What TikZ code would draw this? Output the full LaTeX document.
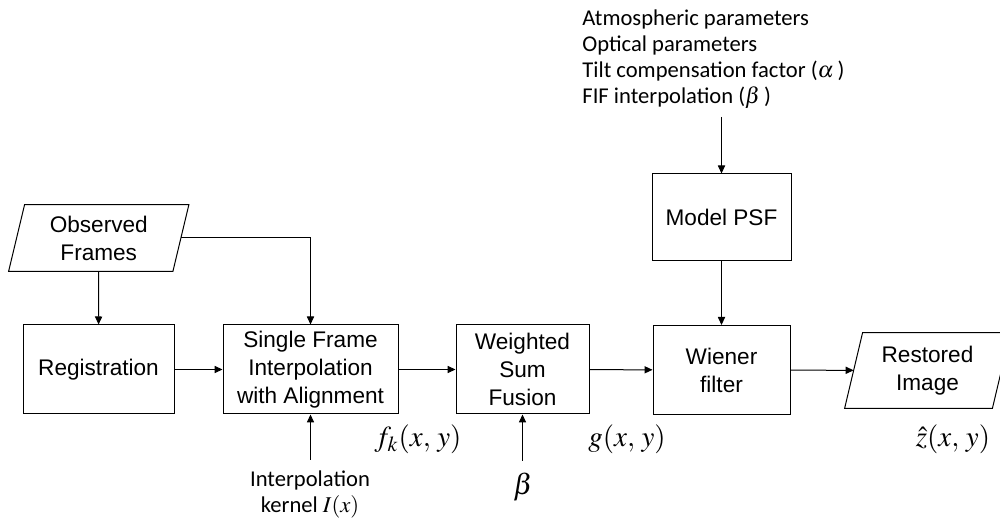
\documentclass[tikz,border=0pt]{standalone}
\usepackage{mathptmx}
\usepackage{fontspec}
\setmainfont{Liberation Sans}
\newfontfamily\calfnt{Carlito}
\usetikzlibrary{arrows.meta,calc}
\begin{document}
\begin{tikzpicture}[x=0.5pt,y=-0.5pt,
  box/.style={draw, line width=0.5pt, inner sep=0pt, minimum height=44.5pt, align=center, font=\fontsize{11.3}{14}\selectfont},
  para/.style={inner sep=0pt, align=center, font=\fontsize{11.3}{14}\selectfont},
  paraline/.style={line width=0.5pt},
  lbl/.style={font=\calfnt\fontsize{11.3}{13}\selectfont, inner sep=0pt},
  mathlbl/.style={font=\fontsize{14.5}{16}\selectfont, inner sep=0pt},
  arr/.style={-{Triangle[length=4pt,width=3.6pt]}, line width=0.5pt}]
\useasboundingbox (0,0) rectangle (1000,522);

% blocks
\node[box, minimum width=75.5pt] (reg) at (98.5,369.5) {Registration};
\node[box, minimum width=87.5pt] (single) at (310.5,369.5) {Single Frame\\Interpolation\\with Alignment};
\node[box, minimum width=66.5pt] (fusion) at (522.5,369.5) {Weighted\\Sum\\Fusion};
\node[box, minimum width=68.5pt] (wiener) at (721.5,370) {Wiener\\filter};
\node[box, minimum width=69.5pt, minimum height=43.5pt] (psf) at (721.5,217.5) {Model PSF};

% parallelograms
\node[para, minimum width=81.75pt, minimum height=33pt] (obs) at (98.75,238) {Observed\\Frames};
\draw[paraline] ($(obs.south west)+(-8,0)$) -- ($(obs.south east)+(-8,0)$) -- ($(obs.north east)+(8,0)$) -- ($(obs.north west)+(8,0)$) -- cycle;
\node[para, minimum width=73.5pt, minimum height=37.5pt] (rest) at (927.5,370.5) {Restored\\Image};
\draw[paraline] ($(rest.south west)+(-9,0)$) -- ($(rest.south east)+(-9,0)$) -- ($(rest.north east)+(9,0)$) -- ($(rest.north west)+(9,0)$) -- cycle;

% texts
\node[lbl, align=left, anchor=north west] (params) at (582,9) {Atmospheric parameters\\Optical parameters\\Tilt compensation factor ($\alpha$\,)\\FIF interpolation ($\beta$\,)};
\node[lbl, align=center] (kernel) at (310,494) {Interpolation\\kernel $I(x)$};
\node[mathlbl] (beta) at (523,487) {$\beta$};
\node[mathlbl] (fk) at (418,439) {$f_k(x,\,y)$};
\node[mathlbl] (g) at (627,439) {$g(x,\,y)$};
\node[mathlbl] (zhat) at (953,439) {$\hat{z}(x,\,y)$};

% connectors
\coordinate (pin) at (721.5,117);
\coordinate (kin) at (310.5,460);
\coordinate (bin) at (522.5,461);
\draw[arr] (obs) -- (reg);
\draw[arr] (obs.east) -| (single.north);
\draw[arr] (reg) -- (single);
\draw[arr] (kin) -- (single);
\draw[arr] (single) -- (fusion);
\draw[arr] (bin) -- (fusion);
\draw[arr] (fusion) -- (wiener);
\draw[arr] (pin) -- (psf);
\draw[arr] (psf) -- (wiener);
\draw[arr] (wiener) -- (rest);
\end{tikzpicture}
\end{document}
